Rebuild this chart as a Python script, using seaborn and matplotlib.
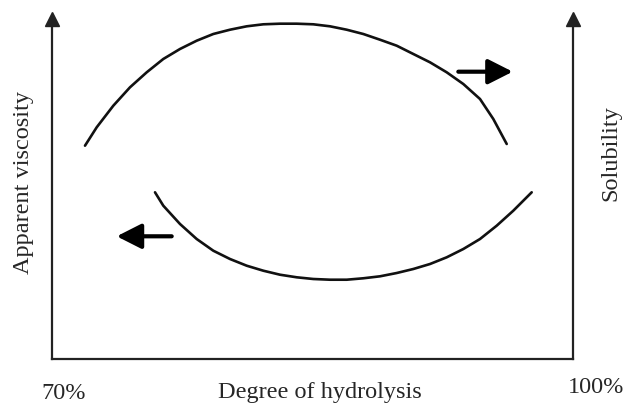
import matplotlib
matplotlib.use("Agg")
import matplotlib.pyplot as plt
import pandas as pd
import seaborn as sns

# Values (x = degree of hydrolysis %, y = relative level 0-100)
viscosity_x = [71.900, 72.574, 73.530, 74.491, 75.453, 76.409, 77.370, 78.332, 79.288,
               80.250, 81.211, 82.167, 83.129, 84.090, 85.046, 86.008, 86.969, 87.925,
               88.887, 89.848, 90.804, 91.766, 92.728, 93.684, 94.645, 95.411, 96.183]
viscosity_y = [62.74, 68.15, 74.50, 79.91, 84.32, 88.24, 91.18, 93.62, 95.59,
               96.85, 97.85, 98.44, 98.62, 98.62, 98.44, 97.85, 96.85, 95.59,
               93.91, 92.15, 89.71, 87.26, 84.32, 80.88, 76.47, 70.59, 63.24]

solubility_x = [75.931, 76.409, 77.370, 78.332, 79.288, 80.250, 81.211, 82.167, 83.129,
                84.090, 85.046, 86.008, 86.969, 87.925, 88.887, 89.848, 90.804, 91.766,
                92.728, 93.684, 94.645, 95.607, 96.563, 97.622]
solubility_y = [49.03, 45.09, 39.71, 35.29, 31.85, 29.41, 27.44, 25.97, 24.79,
                24.03, 23.53, 23.32, 23.32, 23.74, 24.32, 25.29, 26.47, 27.94,
                29.91, 32.35, 35.29, 39.21, 43.62, 49.03]

# direction arrows: (tail, tip)
arrow_right = [(93.396, 84.50), (96.528, 84.50)]
arrow_left = [(76.893, 36.09), (73.726, 36.09)]

x_ticks = [70, 100]
x_labels = ["70%", "100%"]

sns.set_style("white")
plt.rcParams['font.family'] = ['Liberation Serif', 'DejaVu Serif']

df_visc = pd.DataFrame({'x': viscosity_x, 'y': viscosity_y})
df_sol = pd.DataFrame({'x': solubility_x, 'y': solubility_y})

fig = plt.figure(figsize=(6.23, 4.06), dpi=100)
W, H = 623, 406
# axes box in pixels: left 52, right 573, bottom 360, top 20
ax = fig.add_axes([52 / W, 1 - 360 / H, (573 - 52) / W, (360 - 20) / H])

for d in (df_visc, df_sol):
    sns.lineplot(data=d, x='x', y='y', color='#111111', linewidth=1.9,
                 estimator=None, ax=ax, solid_joinstyle='round', solid_capstyle='round')

for tail, tip in (arrow_right, arrow_left):
    ax.annotate("", xy=tip, xytext=tail,
                arrowprops=dict(arrowstyle='-|>,head_length=0.75,head_width=0.38',
                                mutation_scale=20, lw=3, color='black',
                                shrinkA=0, shrinkB=0))

ax.set_xlim(x_ticks[0], x_ticks[1])
ax.set_ylim(0, 100)
ax.set_xticks([])
ax.set_yticks([])
ax.set_xlabel("")
ax.set_ylabel("")

for side in ('left', 'right', 'bottom'):
    ax.spines[side].set_visible(True)
    ax.spines[side].set_color('#222222')
    ax.spines[side].set_linewidth(1.6)
ax.spines['top'].set_visible(False)

# arrowheads on the vertical axes
ax.plot([0, 1], [1, 1], '^', color='#222222', markersize=10,
        transform=ax.transAxes, clip_on=False)

fs = 17.5
fig.text(64 / W, 1 - 399 / H, x_labels[0], ha='center', va='baseline', fontsize=fs)
fig.text(320 / W, 1 - 398 / H, "Degree of hydrolysis", ha='center', va='baseline', fontsize=fs)
fig.text(596 / W, 1 - 393 / H, x_labels[1], ha='center', va='baseline', fontsize=fs)
fig.text(23 / W, 1 - 183 / H, "Apparent viscosity", rotation=90, ha='center', va='center', fontsize=fs)
fig.text(611 / W, 1 - 153 / H, "Solubility", rotation=90, ha='center', va='center', fontsize=fs)

fig.savefig("out.png", dpi=100)
